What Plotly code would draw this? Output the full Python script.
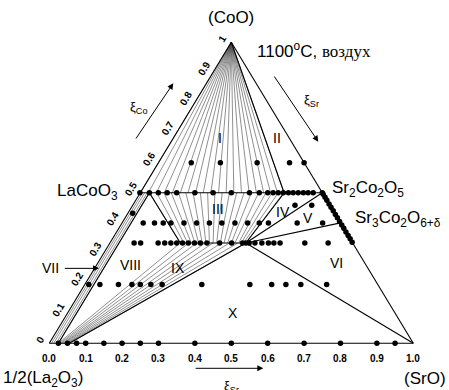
import plotly.graph_objects as go

# ---- data (plot coordinates: x along La2O3->SrO, y = xi_Co) ----
apex = (0.5, 1.0)
y_perov = 0.5
y_k2nif4 = 1 / 3

fanI_bottom_x = [0.25, 0.272, 0.294, 0.316, 0.338, 0.36, 0.381, 0.402, 0.423, 0.444,
                 0.465, 0.486, 0.507, 0.528, 0.549, 0.569, 0.589, 0.608, 0.627, 0.645]
fanIII_top_x = [0.275, 0.295, 0.315, 0.335, 0.355, 0.375, 0.395, 0.415, 0.435, 0.455,
                0.475, 0.495, 0.515, 0.535, 0.555, 0.575, 0.595, 0.612, 0.629, 0.645]
fanIII_bot_x = [0.36, 0.37, 0.38, 0.39, 0.40, 0.41, 0.42, 0.43, 0.44, 0.45,
                0.46, 0.47, 0.48, 0.49, 0.50, 0.51, 0.52, 0.527, 0.534, 0.54]
fanVII_bot_x = [0.006, 0.012, 0.019, 0.025]
fanVII_top_x = [0.256, 0.262, 0.269, 0.275]
fanIX_bot_x = [0.025, 0.029, 0.033, 0.037, 0.040, 0.044, 0.048, 0.051, 0.055]
fanIX_top_x = [0.36, 0.383, 0.405, 0.428, 0.45, 0.473, 0.495, 0.518, 0.54]

# boundary segments (x0, y0, x1, y1)
boundaries = [
    (0.0, 0.0, 1.0, 0.0), (1.0, 0.0, 0.5, 1.0), (0.5, 1.0, 0.0, 0.0),
    (0.25, 0.5, 0.75, 0.5), (0.36, 1 / 3, 0.54, 1 / 3),
    (0.5, 1.0, 0.645, 0.5), (0.275, 0.5, 0.36, 1 / 3),
    (0.54, 1 / 3, 0.645, 0.5), (0.54, 1 / 3, 0.75, 0.5),
    (0.54, 1 / 3, 0.8, 0.4), (0.54, 1 / 3, 1.0, 0.0),
    (0.055, 0.0, 0.54, 1 / 3), (0.025, 0.0, 0.275, 0.5),
]

# experimental points, row by row
row060_x = [0.39, 0.47, 0.571, 0.66, 0.70]
row050_x = [0.249, 0.275, 0.2995, 0.324, 0.35, 0.40, 0.45, 0.50, 0.55, 0.577, 0.60,
            0.615, 0.629, 0.643, 0.657, 0.67, 0.684, 0.698, 0.711, 0.725, 0.75]
row046_x = [0.675, 0.721]
row043_x = [0.229]
row040_x = [0.258, 0.289, 0.313, 0.334, 0.37, 0.405, 0.44, 0.474, 0.51, 0.545,
            0.577, 0.602, 0.681, 0.751]
row033_x = [0.233, 0.251, 0.299, 0.317, 0.334, 0.35, 0.366, 0.382, 0.399, 0.415,
            0.433, 0.468, 0.501, 0.531, 0.540, 0.549, 0.565, 0.584, 0.602, 0.617,
            0.634, 0.702, 0.766]
row020_x = [0.1085, 0.139, 0.19, 0.227, 0.25, 0.279, 0.31, 0.419, 0.551, 0.611,
            0.65, 0.691, 0.762]
row000_x = [0.025, 0.05, 0.075, 0.1, 0.15, 0.2, 0.25, 0.3, 0.4, 0.5, 0.6, 0.7,
            0.8, 0.9, 0.95]
edge_co = [0.495, 0.485, 0.475, 0.463, 0.452, 0.44, 0.428, 0.417, 0.405, 0.393,
           0.382, 0.37, 0.358, 0.347, 0.336]  # Co fraction of points on Co-Sr edge

bottom_ticks = [0.0, 0.1, 0.2, 0.3, 0.4, 0.5, 0.6, 0.7, 0.8, 0.9, 1.0]
left_ticks = [0.0, 0.1, 0.2, 0.3, 0.4, 0.5, 0.6, 0.7, 0.8, 0.9, 1.0]
left_tick_labels = ["0", "0.1", "0.2", "0.3", "0.4", "0.5", "0.6", "0.7", "0.8", "0.9", "1"]

regions = [("I", 0.469, 0.682), ("II", 0.625, 0.682), ("III", 0.464, 0.446),
           ("IV", 0.643, 0.437), ("V", 0.712, 0.415), ("VI", 0.79, 0.266),
           ("VII", 0.003, 0.249), ("VIII", 0.222, 0.26), ("IX", 0.354, 0.249),
           ("X", 0.505, 0.10)]

# ---- build figure ----
fig = go.Figure()

def seg_trace(pairs, color, width):
    xs, ys = [], []
    for (x0, y0, x1, y1) in pairs:
        xs += [x0, x1, None]
        ys += [y0, y1, None]
    return go.Scatter(x=xs, y=ys, mode="lines", line=dict(color=color, width=width),
                      hoverinfo="skip")

fan = []
fan += [(apex[0], apex[1], xb, y_perov) for xb in fanI_bottom_x]
fan += [(xt, y_perov, xb, y_k2nif4) for xt, xb in zip(fanIII_top_x, fanIII_bot_x)]
fan += [(xb, 0.0, xt, y_perov) for xb, xt in zip(fanVII_bot_x, fanVII_top_x)]
fan += [(xb, 0.0, xt, y_k2nif4) for xb, xt in zip(fanIX_bot_x, fanIX_top_x)]
fig.add_trace(seg_trace(fan, "#444444", 0.6))
fig.add_trace(seg_trace(boundaries, "black", 1.1))

px, py = [], []
for xs, yv in [(row060_x, 0.6), (row050_x, 0.5), (row046_x, 0.459), (row043_x, 0.432),
               (row040_x, 0.4), (row033_x, 1 / 3), (row020_x, 0.195), (row000_x, 0.0)]:
    px += xs
    py += [yv] * len(xs)
px += [1 - c / 2 for c in edge_co]
py += edge_co
fig.add_trace(go.Scatter(x=px, y=py, mode="markers",
                         marker=dict(color="black", size=5.5), hoverinfo="skip"))

F = "Liberation Sans, Arial, sans-serif"
ann = []

def txt(x, y, s, size=17, xa="center", ya="middle", angle=0, family=F):
    ann.append(dict(x=x, y=y, xref="x", yref="y", text=s, showarrow=False,
                    xanchor=xa, yanchor=ya, textangle=angle,
                    font=dict(family=family, size=size, color="black")))

def arrow(x0, y0, x1, y1):
    ann.append(dict(x=x1, y=y1, ax=x0, ay=y0, xref="x", yref="y", axref="x", ayref="y",
                    text="", showarrow=True, arrowhead=2, arrowsize=1.2,
                    arrowwidth=1, arrowcolor="black"))

txt(0.499, 1.081, "(CoO)")
txt(0.565, 0.975, "1100<sup>o</sup>C, <span style='font-family:Liberation Serif'>воздух</span>",
    xa="left")
txt(0.194, 0.502, "LaCoO<sub>3</sub>", xa="right")
txt(0.771, 0.512, "Sr<sub>2</sub>Co<sub>2</sub>O<sub>5</sub>", xa="left")
txt(0.834, 0.412, "Sr<sub>3</sub>Co<sub>2</sub>O<sub>6+δ</sub>", xa="left")
txt(-0.133, -0.118, "1/2(La<sub>2</sub>O<sub>3</sub>)", xa="left")
txt(1.095, -0.118, "(SrO)", xa="right")

txt(0.244, 0.782, "ξ<sub>Co</sub>", size=13)
txt(0.719, 0.808, "ξ<sub>Sr</sub>", size=13)
txt(0.5, -0.108, "ξ<sub>Sr</sub>", size=13, ya="top")
arrow(0.2354, 0.6754, 0.3407, 0.8638)
arrow(0.6154, 0.8914, 0.739, 0.6698)
arrow(0.398, -0.083, 0.588, -0.083)
arrow(0.0385, 0.249, 0.1365, 0.249)

for name, x, y in regions:
    txt(x, y, name, size=14)

for v in bottom_ticks:
    txt(v, -0.049, "<b>%.1f</b>" % v, size=10)
for v, lab in zip(left_ticks, left_tick_labels):
    txt(v / 2 - 0.025, v + 0.013, "<b>%s</b>" % lab, size=10, angle=-59)

fig.update_layout(
    width=449, height=390, margin=dict(l=0, r=0, t=0, b=0),
    paper_bgcolor="white", plot_bgcolor="white", showlegend=False,
    xaxis=dict(range=[-0.1354, 1.0981], visible=False, fixedrange=True),
    yaxis=dict(range=[-0.1551, 1.1405], visible=False, fixedrange=True),
    annotations=ann,
)
fig.write_html("out.html")
